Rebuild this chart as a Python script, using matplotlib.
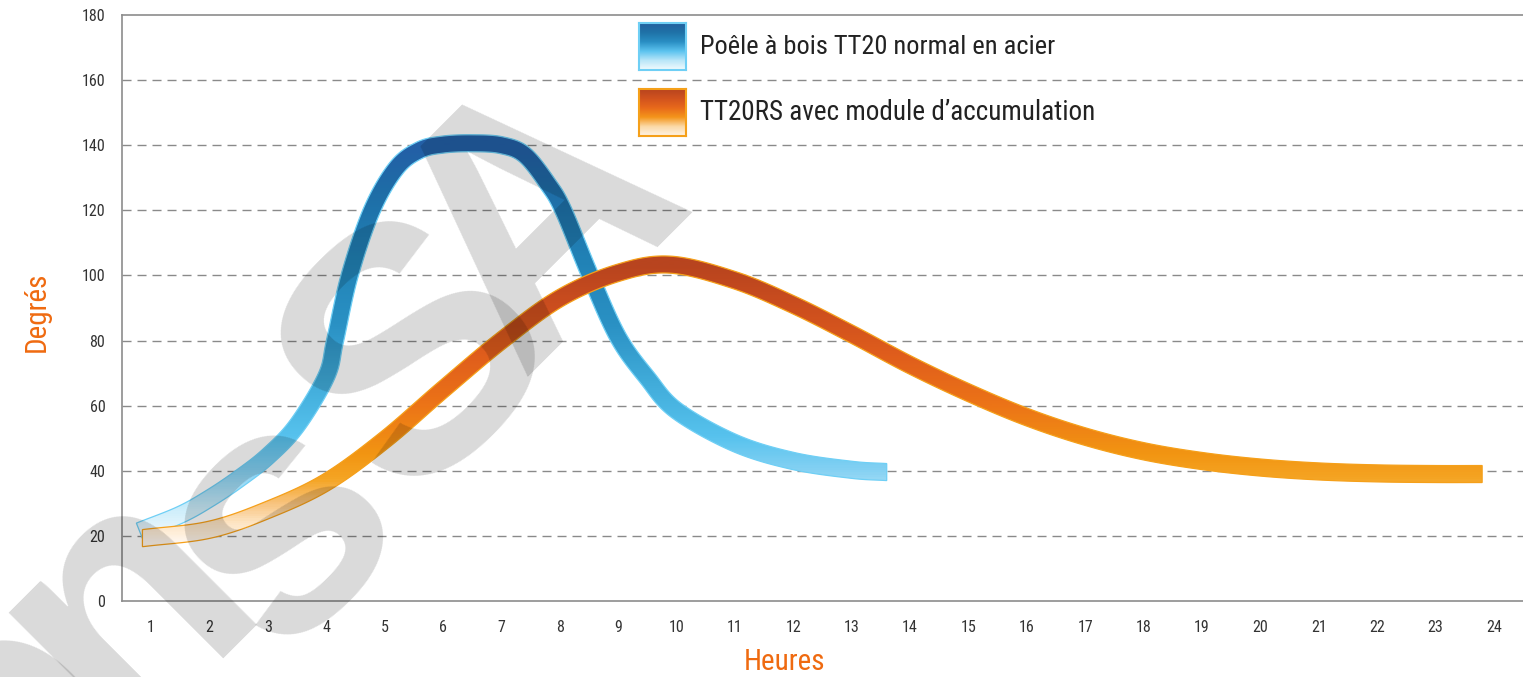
import numpy as np
import matplotlib
matplotlib.use("Agg")
import matplotlib.pyplot as plt
from matplotlib.colors import LinearSegmentedColormap
from matplotlib.patches import Polygon
from matplotlib import font_manager
from matplotlib.font_manager import FontProperties

# pick a narrow face if one is installed (the original uses a condensed DIN-like font)
cond = None
for f in font_manager.fontManager.ttflist:
    nm = f.name
    narrowish = ("Narrow" in nm or "Condensed" in nm or str(f.stretch) in ("condensed", "semi-condensed"))
    if narrowish and f.style == "normal" and f.weight in (400, "normal", "regular") and "Mono" not in nm:
        if cond is None or "Liberation" in nm or "Roboto" in nm:
            cond = f.fname
font = FontProperties(fname=cond) if cond else FontProperties(family="Roboto")

# data (hours, degrees)
hours_ticks = list(range(1, 25))
deg_ticks = list(range(0, 181, 20))

steel_x = [0.8, 1.5, 2, 2.5, 3, 3.5, 4, 4.15, 4.4, 4.78, 5.2, 5.6, 6, 6.5, 7, 7.4, 7.8, 8.06, 8.52, 9.0, 9.5, 10, 11, 12, 13, 13.6]
steel_y = [21.5, 26.5, 31.5, 37.5, 44.5, 54, 69, 80, 100, 120, 133, 138.5, 140.2, 140.6, 140, 137, 128, 120, 100, 81, 68.5, 58.5, 48.5, 43, 40.3, 39.6]

accu_x = [0.85, 2, 3, 4, 5, 6, 7, 8, 9, 9.9, 11, 12, 13, 14, 15, 16, 17, 18, 19, 20, 21, 22, 23, 23.8]
accu_y = [19.3, 21.9, 28, 36.5, 49.5, 65, 80, 93, 100.8, 103.3, 98.5, 91, 82, 72.5, 64, 56.5, 50.5, 46, 43, 41, 39.8, 39.2, 39, 39]

labels = ["Poêle à bois TT20 normal en acier", "TT20RS avec module d\u2019accumulation"]

blue_stops = [(0, "#ffffff"), (20, "#eef8fe"), (28, "#cdeefb"), (40, "#84d1f3"), (50, "#58c3ee"),
              (62, "#47b3e0"), (85, "#2a91c4"), (105, "#2182b6"), (125, "#1e6ea7"), (140, "#235fa6"), (180, "#235fa6")]
orange_stops = [(0, "#ffffff"), (18, "#fff6ec"), (24, "#fde3c0"), (30, "#f8c27a"), (37, "#f5a524"), (45, "#f29512"),
                (60, "#ec7417"), (75, "#e05e1c"), (90, "#cc4e1e"), (103, "#b8441f"), (180, "#b8441f")]
blue_cmap = LinearSegmentedColormap.from_list("blue", [(v / 180, c) for v, c in blue_stops])
orange_cmap = LinearSegmentedColormap.from_list("orange", [(v / 180, c) for v, c in orange_stops])

fig = plt.figure(figsize=(15.23, 6.77), dpi=100)
ax = fig.add_axes([122 / 1523, 1 - 601 / 677, (1523 - 122) / 1523, (601 - 15) / 677])
ax.set_xlim(0.5, 24.5)
ax.set_ylim(0, 180)

for s in ["left", "bottom", "top"]:
    ax.spines[s].set_color("#8c8c8c")
    ax.spines[s].set_linewidth(1.2)
ax.spines["right"].set_visible(False)
for y in deg_ticks[1:-1]:
    ax.axhline(y, color="#8a8a8a", lw=1.0, ls=(0, (6.5, 4.3)), zorder=0.5)

ax.set_xticks(hours_ticks)
ax.set_yticks(deg_ticks)
ax.tick_params(length=0, labelcolor="#333333")
ax.tick_params(axis="y", pad=12)
ax.tick_params(axis="x", pad=14)
for t in ax.get_xticklabels() + ax.get_yticklabels():
    t.set_fontproperties(font)
    t.set_fontsize(11.5)


def smooth(pts, n=40):
    P = np.vstack([2 * pts[0] - pts[1], pts, 2 * pts[-1] - pts[-2]])
    out = []
    t = np.linspace(0, 1, n, endpoint=False)[:, None]
    for i in range(1, len(P) - 2):
        p0, p1, p2, p3 = P[i - 1], P[i], P[i + 1], P[i + 2]
        out.append(0.5 * (2 * p1 + (-p0 + p2) * t + (2 * p0 - 5 * p1 + 4 * p2 - p3) * t ** 2
                          + (-p0 + 3 * p1 - 3 * p2 + p3) * t ** 3))
    out.append(pts[-1:])
    return np.vstack(out)


def band(xs, ys, width, cmap, edge, z, flat_start=True):
    pix = ax.transData.transform(np.column_stack([xs, ys]))
    c = smooth(pix)
    d = np.gradient(c, axis=0)
    nrm = np.column_stack([-d[:, 1], d[:, 0]])
    nrm /= np.linalg.norm(nrm, axis=1)[:, None]
    nrm[-1] = [0, 1]
    if flat_start:
        nrm[0] = [0, 1]
    up = c + nrm * width / 2
    lo = c - nrm * width / 2
    poly = ax.transData.inverted().transform(np.vstack([up, lo[::-1]]))
    grad = np.linspace(0, 180, 600).reshape(-1, 1)
    im = ax.imshow(grad, extent=[0.5, 24.5, 0, 180], origin="lower", aspect="auto",
                   cmap=cmap, vmin=0, vmax=180, zorder=z, interpolation="bilinear")
    patch = Polygon(poly, closed=True, facecolor="none", edgecolor=edge, lw=0.9, zorder=z + 0.1)
    ax.add_patch(patch)
    im.set_clip_path(patch)


band(steel_x, steel_y, 17, blue_cmap, "#6fcff5", 2, flat_start=False)
band(accu_x, accu_y, 17, orange_cmap, "#f5a01a", 3)
ax.set_xlim(0.5, 24.5)
ax.set_ylim(0, 180)

# legend squares with gradient
sq_grad = np.linspace(0, 1, 100).reshape(-1, 1)
leg_blue = LinearSegmentedColormap.from_list("lb", ["#f2fbfe", "#b9e6f8", "#5cc3ef", "#2a8fc4", "#1f73a8", "#22609f"])
leg_orange = LinearSegmentedColormap.from_list("lo", ["#fff3e4", "#fbd9a6", "#f4951a", "#e8691b", "#d2531e", "#b8441f"])
renderer = fig.canvas.get_renderer()
for top, cm, edge, text, target in [(23, leg_blue, "#6fcff5", labels[0], 355),
                                    (89, leg_orange, "#f5a01a", labels[1], 395)]:
    lax = fig.add_axes([639 / 1523, 1 - (top + 47) / 677, 47 / 1523, 47 / 677])
    lax.imshow(sq_grad, origin="lower", aspect="auto", cmap=cm, extent=[0, 1, 0, 1])
    lax.set_xticks([])
    lax.set_yticks([])
    for s in lax.spines.values():
        s.set_color(edge)
        s.set_linewidth(1.5)
    tx = fig.text(700 / 1523, 1 - (top + 24) / 677, text, va="center", ha="left",
                  fontproperties=font, fontsize=22, color="#222222")
    w = tx.get_window_extent(renderer).width
    tx.set_fontsize(min(22, 22 * target / w))

fig.text(37 / 1523, 1 - 312 / 677, "Degrés", rotation=90, ha="center", va="center",
         fontproperties=font, fontsize=21, color="#ef6a10")
fig.text(785 / 1523, 1 - 662 / 677, "Heures", ha="center", va="center",
         fontproperties=font, fontsize=21, color="#ef6a10")

# watermark letters, placed by their baseline centre (pixels)
for ch, px, py in [("A", 608, 288), ("S", 489, 425), ("s", 345, 590), ("n", 190, 668), ("o", 68, 795)]:
    fig.text(px / 1523, 1 - py / 677, ch, rotation=45, rotation_mode="anchor", ha="center", va="baseline",
             fontsize=250, fontweight="bold", family="Liberation Sans", color="k", alpha=0.15, zorder=10)

fig.savefig("out.png", dpi=100)
